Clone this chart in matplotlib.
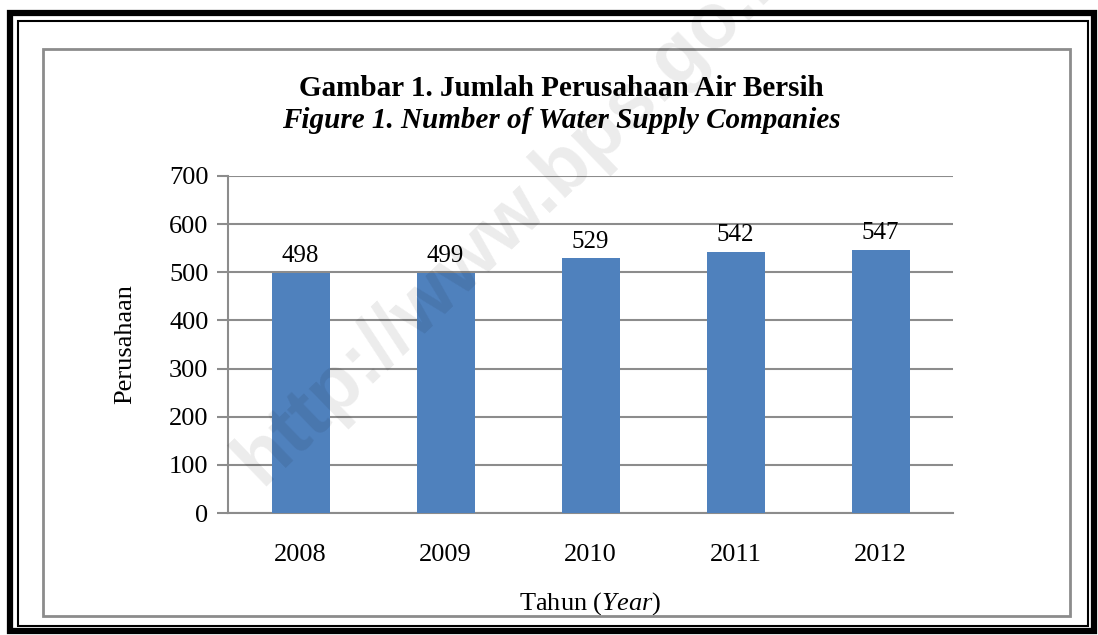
import matplotlib.pyplot as plt
from matplotlib.patches import Rectangle

tahun = ['2008', '2009', '2010', '2011', '2012']
jumlah = [498, 499, 529, 542, 547]
y_ticks = [0, 100, 200, 300, 400, 500, 600, 700]

W, H = 1098, 635
plt.rcParams['font.family'] = 'Liberation Serif'
plt.rcParams['mathtext.fontset'] = 'custom'
plt.rcParams['mathtext.it'] = 'Liberation Serif:italic'
plt.rcParams['mathtext.rm'] = 'Liberation Serif'
fig = plt.figure(figsize=(W / 100, H / 100), dpi=100)


def px_rect(x0, y0, x1, y1, lw, color):
    # rectangle in pixel coords (top-left origin)
    fig.patches.append(Rectangle((x0 / W, 1 - y1 / H), (x1 - x0) / W, (y1 - y0) / H,
                                 transform=fig.transFigure, fill=False,
                                 lw=lw, edgecolor=color))


# ramka hitam dobel + ramka abu-abu
px_rect(10, 13, 1094, 631, 4.5, 'black')
px_rect(18, 21, 1088, 626, 1.5, 'black')
px_rect(43, 49, 1070, 616, 2, '#8c8c8c')

ax = fig.add_axes([228 / W, 1 - 513 / H, 725 / W, 337 / H])
x = range(len(tahun))
bars = ax.bar(x, jumlah, width=0.4, color='#4f81bd', zorder=3)
for b, v in zip(bars, jumlah):
    ax.text(b.get_x() + b.get_width() / 2, v + 12, str(v), ha='center', va='bottom',
            fontsize=18, zorder=4)

ax.set_xlim(-0.5, len(tahun) - 0.5)
ax.set_ylim(0, 700)
ax.set_yticks(y_ticks)
ax.set_xticks(list(x))
ax.set_xticklabels(tahun)
ax.tick_params(axis='y', labelsize=19, length=8, color='#8c8c8c', width=1.5, pad=6)
ax.tick_params(axis='x', labelsize=19, length=0, pad=22)
ax.grid(axis='y', color='#8c8c8c', lw=1.5, zorder=0)
for s in ['top', 'right']:
    ax.spines[s].set_visible(False)
for s in ['left', 'bottom']:
    ax.spines[s].set_color('#8c8c8c')
    ax.spines[s].set_linewidth(1.5)

ax.set_ylabel('Perusahaan', fontsize=19, labelpad=24)
ax.set_xlabel('Tahun ($\\mathit{Year}$)', fontsize=19, labelpad=18)

fig.text(561 / W, 1 - 88 / H, 'Gambar 1. Jumlah Perusahaan Air Bersih', ha='center', va='center',
         fontsize=21, fontweight='bold')
fig.text(561 / W, 1 - 120 / H, 'Figure 1. Number of Water Supply Companies', ha='center', va='center',
         fontsize=21, fontweight='bold', style='italic')

# watermark
fig.text(262 / W, 1 - 486 / H, 'http://www.bps.go.id', rotation=44, rotation_mode='anchor',
         ha='left', va='baseline', fontsize=56, fontweight='bold', family='Liberation Sans',
         color='black', alpha=0.08, zorder=10)

fig.savefig('out.png', dpi=100)
